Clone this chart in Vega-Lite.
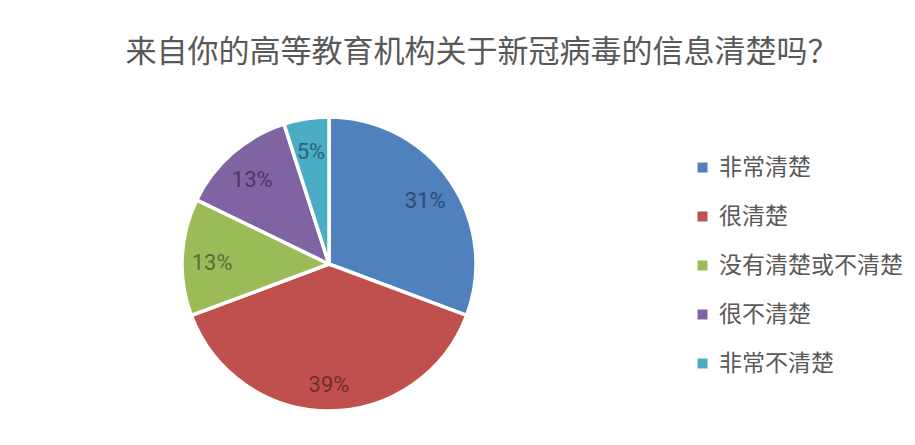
{
  "$schema": "https://vega.github.io/schema/vega-lite/v6.json",
  "autosize": "none",
  "width": 658,
  "height": 364,
  "padding": {"left": 0, "top": 82, "right": 257, "bottom": 0},
  "background": "white",
  "title": {
    "text": "来自你的高等教育机构关于新冠病毒的信息清楚吗？",
    "font": "Noto Sans CJK SC",
    "fontSize": 31,
    "fontWeight": "normal",
    "color": "#595959",
    "anchor": "middle",
    "dx": 153,
    "baseline": "middle",
    "offset": -2,
    "limit": 900
  },
  "data": {
    "values": [
      {"category": "非常清楚", "share": 0.31, "order": 1},
      {"category": "很清楚", "share": 0.39, "order": 2},
      {"category": "没有清楚或不清楚", "share": 0.13, "order": 3},
      {"category": "很不清楚", "share": 0.13, "order": 4},
      {"category": "非常不清楚", "share": 0.05, "order": 5}
    ]
  },
  "encoding": {
    "theta": {"field": "share", "type": "quantitative", "stack": true},
    "order": {"field": "order", "type": "quantitative"}
  },
  "layer": [
    {
      "mark": {"type": "arc", "outerRadius": 147, "stroke": "white", "strokeWidth": 3.5},
      "encoding": {
        "color": {
          "field": "category",
          "type": "nominal",
          "sort": ["非常清楚", "很清楚", "没有清楚或不清楚", "很不清楚", "非常不清楚"],
          "scale": {
            "domain": ["非常清楚", "很清楚", "没有清楚或不清楚", "很不清楚", "非常不清楚"],
            "range": ["#4F81BD", "#C0504D", "#9BBB59", "#8064A2", "#4BACC6"]
          },
          "legend": {
            "title": null,
            "orient": "none",
            "legendX": 691,
            "legendY": 74,
            "symbolType": "square",
            "symbolSize": 100,
            "symbolStrokeWidth": 0,
            "labelFont": "Noto Sans CJK SC",
            "labelFontSize": 23,
            "labelColor": "#595959",
            "labelOffset": 5,
            "rowPadding": 25,
            "labelLimit": 300
          }
        }
      }
    },
    {
      "mark": {"type": "text", "radius": 117, "dy": 4, "font": "Roboto", "fontSize": 22, "baseline": "middle", "align": "center"},
      "encoding": {
        "text": {"field": "share", "type": "quantitative", "format": ".0%"},
        "color": {
          "field": "category",
          "type": "nominal",
          "scale": {
            "domain": ["非常清楚", "很清楚", "没有清楚或不清楚", "很不清楚", "非常不清楚"],
            "range": ["#2E4B72", "#6F2E2C", "#5A6D34", "#4A3A5F", "#2B6474"]
          },
          "legend": null
        }
      }
    }
  ],
  "resolve": {"scale": {"color": "independent"}},
  "config": {"view": {"stroke": null}}
}
